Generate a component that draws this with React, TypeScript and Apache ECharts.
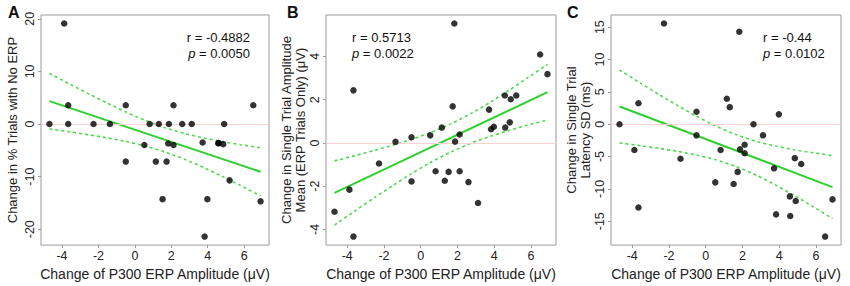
import React, { useEffect, useRef } from "react";
import * as echarts from "echarts";

// Shared x values (change of P300 ERP amplitude, µV)
const xVals = [-4.69, -3.88, -3.66, -3.66, -2.27, -1.37, -0.5, -0.5, 0.52, 0.81, 1.15, 1.31, 1.52, 1.74, 1.83, 1.87, 2.12, 2.12, 2.6, 3.12, 3.72, 3.83, 3.98, 4.58, 4.6, 4.85, 4.9, 5.2, 6.5, 6.9];
// Panel A: change in % trials with no ERP
const yA = [0, 19.1, 3.57, 0, 0, 0, 3.57, -7.14, -4.0, 0, -7.14, 0, -14.29, -7.14, -3.7, 0, 3.57, -4.0, 0, 0, -3.52, -21.4, -14.29, -3.64, -3.64, -3.83, 0, -10.71, 3.57, -14.7];
// Panel B: change in single trial amplitude mean
const yB = [-3.18, -2.16, 2.43, -4.33, -0.95, 0.05, 0.26, -1.78, 0.35, -1.31, 0.71, -1.75, -1.34, 1.69, 5.52, 0.06, 0.39, -1.31, -1.81, -2.78, 1.54, 0.63, 0.75, 2.19, 0.71, 0.95, 2.02, 2.19, 4.09, 3.18];
// Panel C: change in single trial latency SD
const yC = [0, -3.99, 3.23, -12.88, 15.56, -5.35, 1.92, -1.72, -8.99, -3.99, 3.94, 2.63, -9.24, -7.37, 14.29, -3.89, -3.18, -4.49, 0, -1.72, -6.82, -13.94, 1.52, -11.16, -14.19, -5.25, -11.87, -6.16, -17.37, -11.62];

// Fitted lines and confidence bands
const fitX = [-4.69, 6.9];
const fitA = [4.35, -9.09];
const fitB = [-2.31, 2.35];
const fitC = [2.74, -9.72];
const bandX = [-4.69, -3.5, -2.5, -1.5, -0.5, 0.5, 1.64, 2.8, 3.8, 4.8, 5.8, 6.9];
const upperA = [9.63, 7.46, 5.68, 3.95, 2.3, 0.79, -0.69, -1.87, -2.68, -3.35, -3.93, -4.52];
const lowerA = [-0.94, -1.53, -2.06, -2.65, -3.32, -4.13, -5.3, -6.8, -8.31, -9.96, -11.69, -13.66];
const upperB = [-0.83, -0.57, -0.34, -0.1, 0.16, 0.47, 0.88, 1.39, 1.89, 2.43, 3.0, 3.63];
const lowerB = [-3.8, -3.1, -2.52, -1.96, -1.42, -0.92, -0.42, 0.01, 0.31, 0.57, 0.82, 1.06];
const upperC = [8.37, 6.26, 4.51, 2.83, 1.23, -0.22, -1.61, -2.69, -3.38, -3.94, -4.4, -4.84];
const lowerC = [-2.9, -3.34, -3.75, -4.21, -4.77, -5.47, -6.53, -7.95, -9.4, -11.0, -12.68, -14.6];

// Tick labels
const xTicks = [-4, -2, 0, 2, 4, 6];
const yTicksA = [-20, -10, 0, 10, 20];
const yTicksB = [-4, -2, 0, 2, 4];
const yTicksC = [-15, -10, -5, 0, 5, 10, 15];

const xTitle = "Change of P300 ERP Amplitude (μV)";
const yTitles = [
  "Change in % Trials with No ERP",
  "Change in Single Trial Amplitude\nMean (ERP Trials Only) (μV)",
  "Change in Single Trial\nLatency SD (ms)",
];
const letters = ["A", "B", "C"];
const rTexts = ["r = -0.4882", "r = 0.5713", "r = -0.44"];
const pTexts = ["0.0050", "0.0022", "0.0102"];

const FONT = "'Liberation Sans', Arial, Helvetica, sans-serif";
const pair = (xs: number[], ys: number[]) => xs.map((x, i) => [x, ys[i]]);
const padRange = (v: number[]) => {
  const mn = Math.min(...v), mx = Math.max(...v);
  const p = (mx - mn) * 0.04;
  return [mn - p, mx + p];
};

export default function App() {
  const ref = useRef<HTMLDivElement>(null);
  useEffect(() => {
    if (!ref.current) return;
    const chart = echarts.init(ref.current, undefined, { renderer: "svg" });
    const grids = [
      { left: 41, top: 15, width: 228, height: 235 },
      { left: 326, top: 15, width: 230, height: 234 },
      { left: 611, top: 15, width: 230, height: 234 },
    ];
    const ys = [yA, yB, yC];
    const yTicks = [yTicksA, yTicksB, yTicksC];
    const fits = [fitA, fitB, fitC];
    const uppers = [upperA, upperB, upperC];
    const lowers = [lowerA, lowerB, lowerC];
    const nameGaps = [22, 17, 19];
    const xr = padRange(xVals);
    const labelColor = "#222";
    const boxColor = "#9a9a9a";
    const green = "#2fcf2f";
    const bandStyle = { color: "#4fd84f", width: 1.6, type: [3, 3] };
    const series: any[] = [];
    ys.forEach((y, i) => {
      series.push({
        type: "line",
        xAxisIndex: i,
        yAxisIndex: i,
        data: pair(bandX, uppers[i]),
        smooth: 0.2,
        symbol: "none",
        lineStyle: bandStyle,
        z: 2,
        markLine: {
          silent: true,
          symbol: "none",
          label: { show: false },
          data: [{ yAxis: 0 }],
          lineStyle: { color: "#f8d2d2", width: 1, type: "solid" },
        },
      });
      series.push({
        type: "line",
        xAxisIndex: i,
        yAxisIndex: i,
        data: pair(bandX, lowers[i]),
        smooth: 0.2,
        symbol: "none",
        lineStyle: bandStyle,
        z: 2,
      });
      series.push({
        type: "line",
        xAxisIndex: i,
        yAxisIndex: i,
        data: pair(fitX, fits[i]),
        symbol: "none",
        lineStyle: { color: green, width: 2 },
        z: 3,
      });
      series.push({
        type: "scatter",
        xAxisIndex: i,
        yAxisIndex: i,
        data: pair(xVals, y),
        symbol: "circle",
        symbolSize: 6.5,
        itemStyle: { color: "#000" },
        z: 5,
      });
    });

    const graphic: any[] = [];
    const letterX = [8, 287, 567];
    letters.forEach((l, i) => {
      graphic.push({
        type: "text",
        x: letterX[i],
        y: 4,
        style: { text: l, font: `bold 16px ${FONT}`, fill: "#111" },
      });
    });
    const rp = [
      { x: 250, align: "right" },
      { x: 352, align: "left" },
      { x: 763, align: "left" },
    ];
    rp.forEach((c, i) => {
      graphic.push({
        type: "text",
        x: c.x,
        y: 37,
        style: {
          text: rTexts[i],
          font: `13px ${FONT}`,
          fill: "#111",
          align: c.align,
          verticalAlign: "middle",
        },
      });
      graphic.push({
        type: "text",
        x: c.x,
        y: 53,
        style: {
          text: `{i|p} = ${pTexts[i]}`,
          font: `13px ${FONT}`,
          fill: "#111",
          align: c.align,
          verticalAlign: "middle",
          rich: { i: { fontStyle: "italic", font: `italic 13px ${FONT}`, fill: "#111" } },
        },
      });
    });

    chart.setOption({
      animation: false,
      backgroundColor: "#fff",
      textStyle: { fontFamily: FONT },
      grid: grids.map((g) => ({ ...g, show: true, borderColor: boxColor, borderWidth: 1, backgroundColor: "transparent", containLabel: false })),
      xAxis: grids.map((_, i) => ({
        gridIndex: i,
        type: "value",
        position: "bottom",
        min: xr[0],
        max: xr[1],
        axisLine: { show: false, onZero: false },
        splitLine: { show: false },
        axisTick: { show: true, customValues: xTicks, length: 3, lineStyle: { color: boxColor } },
        axisLabel: { customValues: xTicks, color: labelColor, fontSize: 12.5, margin: 4, fontFamily: FONT },
        name: xTitle,
        nameLocation: "middle",
        nameGap: 16,
        nameTextStyle: { color: labelColor, fontSize: 14, fontFamily: FONT },
      })),
      yAxis: grids.map((_, i) => {
        const r = padRange(ys[i]);
        return {
          gridIndex: i,
          type: "value",
          position: "left",
          min: r[0],
          max: r[1],
          axisLine: { show: false, onZero: false },
          splitLine: { show: false },
          axisTick: { show: true, customValues: yTicks[i], length: 3, lineStyle: { color: boxColor } },
          axisLabel: { customValues: yTicks[i], color: labelColor, fontSize: 12.5, margin: 5, rotate: 90, fontFamily: FONT },
          name: yTitles[i],
          nameLocation: "middle",
          nameGap: nameGaps[i],
          nameTextStyle: { color: labelColor, fontSize: 13, lineHeight: 14, fontFamily: FONT },
        };
      }),
      series,
      graphic,
    });
    return () => chart.dispose();
  }, []);
  return <div ref={ref} style={{ position: "absolute", left: 0, top: 0, width: 850, height: 286 }} />;
}
